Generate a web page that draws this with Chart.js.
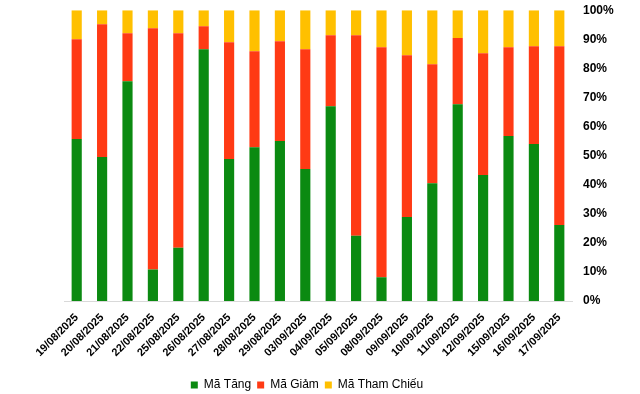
<!DOCTYPE html>
<html>
<head>
<meta charset="utf-8">
<script src="https://cdn.jsdelivr.net/npm/chart.js@4/dist/chart.umd.min.js"></script>
<style>
  html, body { margin: 0; padding: 0; background: #fff; }
  #wrap { width: 640px; height: 394px; }
</style>
</head>
<body>
<div id="wrap"><canvas id="myChart" width="640" height="394"></canvas></div>
<script>
const dates = ['19/08/2025', '20/08/2025', '21/08/2025', '22/08/2025', '25/08/2025',
    '26/08/2025', '27/08/2025', '28/08/2025', '29/08/2025', '03/09/2025',
    '04/09/2025', '05/09/2025', '08/09/2025', '09/09/2025', '10/09/2025',
    '11/09/2025', '12/09/2025', '15/09/2025', '16/09/2025', '17/09/2025'];
const maTang = [55.7, 49.5, 75.6, 10.8, 18.3, 86.6, 48.8, 52.9, 55.0, 45.4,
    67.0, 22.4, 8.2, 28.9, 40.5, 67.7, 43.3, 56.7, 54.0, 26.1];
const maGiam = [34.3, 45.7, 16.5, 83.0, 73.8, 7.9, 40.2, 33.0, 34.3, 41.2,
    24.4, 69.0, 79.1, 55.6, 40.9, 22.7, 41.9, 30.6, 33.6, 61.5];
const maThamChieu = [10.0, 4.8, 7.9, 6.2, 7.9, 5.5, 11.0, 14.1, 10.7, 13.4,
    8.6, 8.6, 12.7, 15.5, 18.6, 9.6, 14.8, 12.7, 12.4, 12.4];

const fontFamily = '"Liberation Sans", Arial, sans-serif';

function makeDataset(label, data, color) {
    return {
        label: label,
        data: data,
        backgroundColor: color,
        borderWidth: 0,
        barPercentage: 0.4,
        categoryPercentage: 1.0,
    };
}

const ctx = document.getElementById('myChart').getContext('2d');
new Chart(ctx, {
    type: 'bar',
    data: {
        labels: dates,
        datasets: [
            makeDataset('Mã Tăng', maTang, '#0B8A11'),
            makeDataset('Mã Giảm', maGiam, '#FF3A14'),
            makeDataset('Mã Tham Chiếu', maThamChieu, '#FFC000'),
        ],
    },
    options: {
        responsive: false,
        animation: false,
        layout: {
            // legend is centred a bit left of the page in the original
            padding: { left: 0, top: 0, right: 26, bottom: -7 }
        },
        plugins: {
            legend: {
                position: 'bottom',
                labels: {
                    boxWidth: 7,
                    boxHeight: 7,
                    padding: 6,
                    color: '#000',
                    font: { family: fontFamily, size: 12 },
                },
            },
            tooltip: { enabled: false },
        },
        scales: {
            x: {
                stacked: true,
                grid: { display: false },
                border: { color: '#d9d9d9', width: 1 },
                ticks: {
                    autoSkip: false,
                    maxRotation: 45,
                    minRotation: 45,
                    color: '#000',
                    padding: 2,
                    font: { family: fontFamily, size: 11, weight: 'bold' },
                },
                afterFit: function (scale) {
                    scale.height = 72;
                    scale.paddingLeft = 64;
                },
            },
            y: {
                stacked: true,
                position: 'right',
                min: 0,
                max: 100,
                grid: { display: false },
                border: { display: false },
                ticks: {
                    stepSize: 10,
                    color: '#000',
                    padding: 3,
                    font: { family: fontFamily, size: 12, weight: 'bold' },
                    callback: function (value) {
                        return value + '%';
                    },
                },
                afterFit: function (scale) {
                    scale.width = 42;
                },
            },
        },
    },
});
</script>
</body>
</html>
